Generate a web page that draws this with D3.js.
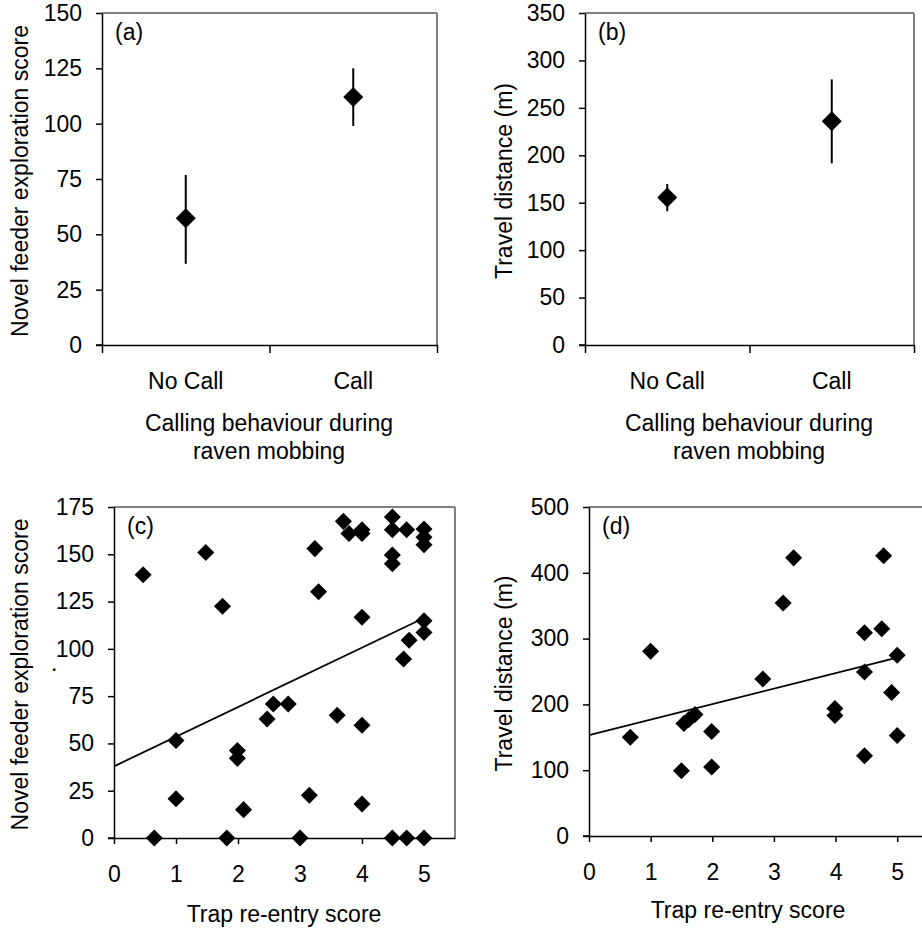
<!DOCTYPE html>
<html>
<head>
<meta charset="utf-8">
<script src="https://cdn.jsdelivr.net/npm/d3@7"></script>
<style>
  html, body { margin: 0; padding: 0; background: #fff; }
  svg { display: block; }
  text { font-family: "Liberation Sans", Arial, sans-serif; fill: #000; }
</style>
</head>
<body>
<svg id="chart" width="922" height="928"></svg>
<script>
// ---------- DATA ----------
const callCategories = ["No Call", "Call"];
// panel (a): novel feeder exploration score, mean and error range
const aMeans = [57.3, 112];
const aLow = [36.7, 99];
const aHigh = [76.8, 125];
// panel (b): travel distance (m)
const bMeans = [155.4, 236];
const bLow = [141, 191.6];
const bHigh = [169.7, 280];
// panel (c): trap re-entry score vs novel feeder exploration score
const cX = [0.47, 0.65, 1.0, 1.0, 1.48, 1.75, 1.82, 1.99, 1.99, 2.09, 2.47, 2.57, 2.81, 3.0, 3.15, 3.24, 3.3, 3.6, 3.7, 3.79,
            4.0, 4.0, 4.0, 4.0, 4.0, 4.49, 4.49, 4.49, 4.49, 4.49, 4.72, 4.67, 4.76, 4.72, 5.0, 5.0, 5.0, 5.0, 5.0, 5.0];
const cY = [139.2, 0, 51.6, 20.8, 151, 122.5, 0, 46.2, 42.1, 15, 62.9, 70.8, 70.8, 0, 22.6, 153, 130.2, 64.9, 167.4, 161,
            163, 161, 116.7, 59.6, 18, 169.7, 163, 149.6, 145, 0, 163, 94.6, 104.5, 0, 163.4, 159, 155, 114.9, 108.7, 0];
const cFit = { x: [0, 5], y: [37.9, 116.3] };
// panel (d): trap re-entry score vs travel distance (m)
const dX = [0.67, 1.0, 1.5, 1.54, 1.62, 1.72, 1.99, 1.99, 2.82, 3.15, 3.32, 3.99, 3.99, 4.47, 4.47, 4.47, 4.75, 4.78, 4.91, 5.0, 5.0];
const dY = [150.2, 280.7, 99, 171, 177, 184.7, 158.9, 105, 238.5, 354, 422.7, 193.9, 183.2, 309, 249.2, 121.8, 315, 425.8, 218.2, 274.6, 152.8];
const dFit = { x: [0, 5], y: [153.3, 271] };

const aTicks = [0, 25, 50, 75, 100, 125, 150];
const bTicks = [0, 50, 100, 150, 200, 250, 300, 350];
const cTicks = [0, 25, 50, 75, 100, 125, 150, 175];
const dTicks = [0, 100, 200, 300, 400, 500];
const xScoreTicks = [0, 1, 2, 3, 4, 5];

// ---------- DRAW ----------
const svg = d3.select("#chart");
const FS = 23;
const FF = "Liberation Sans, Arial, sans-serif";

function frame(g, x0, x1, y0, y1, showRight) {
  g.append("line").attr("x1", x0).attr("x2", x1).attr("y1", y0).attr("y2", y0)
    .attr("stroke", "#808080").attr("stroke-width", 2);
  if (showRight) {
    g.append("line").attr("x1", x1).attr("x2", x1).attr("y1", y0).attr("y2", y1)
      .attr("stroke", "#808080").attr("stroke-width", 2);
  }
}

function styleAxis(ax) {
  ax.select(".domain").attr("stroke", "#000").attr("stroke-width", 1.5);
  ax.selectAll(".tick line").attr("stroke", "#000").attr("stroke-width", 1.5);
  ax.selectAll(".tick text").attr("font-size", FS).attr("font-family", FF).attr("fill", "#000");
}

function yAxis(g, y, ticks, x0) {
  const ax = g.append("g").attr("transform", `translate(${x0},0)`)
    .call(d3.axisLeft(y).tickValues(ticks).tickSize(6).tickPadding(14).tickSizeOuter(0).tickFormat(d3.format("d")));
  styleAxis(ax);
  return ax;
}

function yTitle(g, text, x, y) {
  g.append("text").attr("transform", `translate(${x},${y}) rotate(-90)`)
    .attr("text-anchor", "middle").attr("font-size", FS).text(text);
}

function panelLabel(g, text, x, y) {
  g.append("text").attr("x", x).attr("y", y).attr("font-size", FS).text(text);
}

function diamond(size) {
  return d3.symbol().type(d3.symbolSquare).size(size)();
}

// ---- categorical panels (a), (b)
function catPanel(opts) {
  const { left, right, top, bottom, domainMax, ticks, means, low, high, label, ytitle, ytitleX, titleX } = opts;
  const g = svg.append("g");
  const y = d3.scaleLinear().domain([0, domainMax]).range([bottom, top]);
  const xb = d3.scaleBand().domain(callCategories).range([left, right]);
  const xl = d3.scaleLinear().domain([0, 2]).range([left, right]);

  frame(g, left, right, top, bottom, true);
  yAxis(g, y, ticks, left);
  const axb = g.append("g").attr("transform", `translate(0,${bottom})`)
    .call(d3.axisBottom(xl).tickValues([0, 1, 2]).tickSize(8).tickFormat("").tickSizeOuter(0));
  styleAxis(axb);
  g.append("line").attr("x1", left - 6).attr("x2", left).attr("y1", bottom).attr("y2", bottom)
    .attr("stroke", "#000").attr("stroke-width", 1.5);

  g.selectAll(".cat").data(callCategories).join("text")
    .attr("x", d => xb(d) + xb.bandwidth() / 2).attr("y", bottom + 44)
    .attr("text-anchor", "middle").attr("font-size", FS).text(d => d);

  g.append("text").attr("x", titleX).attr("y", bottom + 86).attr("text-anchor", "middle")
    .attr("font-size", FS).text("Calling behaviour during");
  g.append("text").attr("x", titleX).attr("y", bottom + 114).attr("text-anchor", "middle")
    .attr("font-size", FS).text("raven mobbing");

  const cx = d => xb(d) + xb.bandwidth() / 2;
  g.selectAll(".err").data(callCategories).join("line")
    .attr("x1", cx).attr("x2", cx)
    .attr("y1", (d, i) => y(low[i])).attr("y2", (d, i) => y(high[i]))
    .attr("stroke", "#000").attr("stroke-width", 2);
  g.selectAll(".pt").data(callCategories).join("path")
    .attr("d", diamond(200))
    .attr("transform", (d, i) => `translate(${cx(d)},${y(means[i])}) rotate(45)`)
    .attr("fill", "#000");

  yTitle(g, ytitle, ytitleX, (top + bottom) / 2 + 2);
  panelLabel(g, label, left + 13, top + 27);
}

catPanel({ left: 102, right: 437, top: 13, bottom: 345, domainMax: 150, ticks: aTicks,
  means: aMeans, low: aLow, high: aHigh, label: "(a)", ytitle: "Novel feeder exploration score",
  ytitleX: 28, titleX: 269 });
catPanel({ left: 585, right: 914, top: 13, bottom: 345, domainMax: 350, ticks: bTicks,
  means: bMeans, low: bLow, high: bHigh, label: "(b)", ytitle: "Travel distance (m)",
  ytitleX: 512, titleX: 749 });

// ---- scatter panels (c), (d)
function scatterPanel(opts) {
  const { left, right, top, bottom, domainMax, ticks, xs, ys, fit, label, ytitle, ytitleX, titleX, titleY, showRight } = opts;
  const g = svg.append("g");
  const x = d3.scaleLinear().domain([0, 5.5]).range([left, right]);
  const y = d3.scaleLinear().domain([0, domainMax]).range([bottom, top]);

  frame(g, left, right, top, bottom, showRight);
  yAxis(g, y, ticks, left);
  const axb = g.append("g").attr("transform", `translate(0,${bottom})`)
    .call(d3.axisBottom(x).tickValues(xScoreTicks).tickSize(6).tickPadding(22).tickSizeOuter(0).tickFormat(d3.format("d")));
  styleAxis(axb);
  g.append("line").attr("x1", left - 6).attr("x2", left).attr("y1", bottom).attr("y2", bottom)
    .attr("stroke", "#000").attr("stroke-width", 1.5);

  g.append("line")
    .attr("x1", x(fit.x[0])).attr("y1", y(fit.y[0]))
    .attr("x2", x(fit.x[1])).attr("y2", y(fit.y[1]))
    .attr("stroke", "#000").attr("stroke-width", 1.8);

  g.selectAll(".pt").data(xs).join("path")
    .attr("d", diamond(145))
    .attr("transform", (d, i) => `translate(${x(d)},${y(ys[i])}) rotate(45)`)
    .attr("fill", "#000");

  g.append("text").attr("x", titleX).attr("y", titleY).attr("text-anchor", "middle")
    .attr("font-size", FS).text("Trap re-entry score");
  yTitle(g, ytitle, ytitleX, (top + bottom) / 2 + 2);
  panelLabel(g, label, left + 13, top + 27);
  return g;
}

const gc = scatterPanel({ left: 114, right: 455, top: 507, bottom: 838, domainMax: 175, ticks: cTicks,
  xs: cX, ys: cY, fit: cFit, label: "(c)", ytitle: "Novel feeder exploration score",
  ytitleX: 28, titleX: 284, titleY: 922, showRight: true });
gc.append("text").attr("x", 51).attr("y", 671).attr("font-size", FS).text(".");

scatterPanel({ left: 589, right: 928, top: 507, bottom: 836, domainMax: 500, ticks: dTicks,
  xs: dX, ys: dY, fit: dFit, label: "(d)", ytitle: "Travel distance (m)",
  ytitleX: 512, titleX: 748, titleY: 918, showRight: false });
</script>
</body>
</html>
